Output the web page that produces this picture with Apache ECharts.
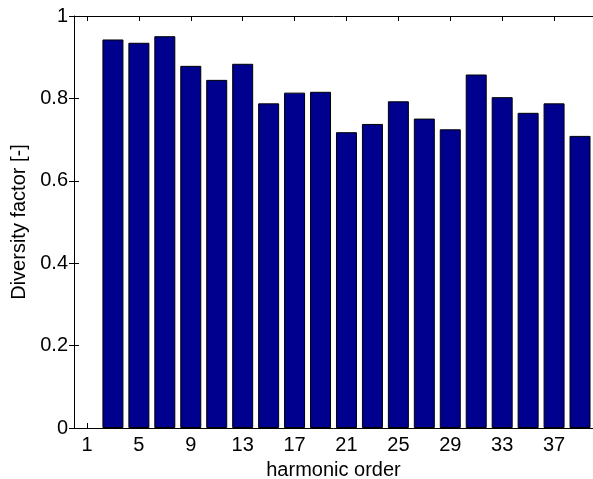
<!DOCTYPE html>
<html>
<head>
<meta charset="utf-8">
<script src="https://cdn.jsdelivr.net/npm/echarts@6/dist/echarts.min.js"></script>
<style>
html,body{margin:0;padding:0;background:#fff;}
#main{width:593px;height:479px;}
</style>
</head>
<body>
<div id="main"></div>
<script>
// harmonic orders and diversity factor
var harmonics = [3,5,7,9,11,13,15,17,19,21,23,25,27,29,31,33,35,37,39];
var diversity = [0.943,0.935,0.951,0.879,0.845,0.884,0.788,0.814,0.816,0.718,0.738,0.793,0.751,0.725,0.858,0.803,0.765,0.788,0.709];
var xTicks = [1,5,9,13,17,21,25,29,33,37];

var font = 'Liberation Sans, Arial, Helvetica, sans-serif';
var data = [];
for (var i in harmonics) {
	data.push([harmonics[i], diversity[i]]);
}

var myChart = echarts.init(document.getElementById('main'));
var axisLine = {show: true, onZero: false, lineStyle: {color: '#000', width: 1}};
var tick = {show: true, inside: true, length: 5, lineStyle: {color: '#000'}};
var option = {
	animation: false,
	backgroundColor: '#fff',
	grid: {left: 74, right: 0, top: 16, bottom: 51, outerBoundsMode: 'none', containLabel: false},
	xAxis: [
		{
			type: 'value', min: 0, max: 40,
			name: 'harmonic order', nameLocation: 'middle', nameGap: 32,
			nameTextStyle: {color: '#000', fontSize: 20, fontFamily: font},
			axisLine: axisLine,
			axisTick: Object.assign({customValues: xTicks}, tick),
			axisLabel: {customValues: xTicks, color: '#000', fontSize: 20, fontFamily: font, margin: 7},
			splitLine: {show: false}
		},
		{
			type: 'value', min: 0, max: 40, position: 'top',
			axisLine: axisLine,
			axisTick: Object.assign({customValues: xTicks}, tick),
			axisLabel: {show: false},
			splitLine: {show: false}
		}
	],
	yAxis: [
		{
			type: 'value', min: 0, max: 1, interval: 0.2,
			name: 'Diversity factor [-]', nameLocation: 'middle', nameGap: 37,
			nameTextStyle: {color: '#000', fontSize: 20, fontFamily: font},
			axisLine: axisLine,
			axisTick: tick,
			axisLabel: {color: '#000', fontSize: 20, fontFamily: font, margin: 6},
			splitLine: {show: false}
		},
		{
			type: 'value', min: 0, max: 1, interval: 0.2, position: 'right',
			axisLine: {show: false},
			axisTick: tick,
			axisLabel: {show: false},
			splitLine: {show: false}
		}
	],
	series: [
		{
			type: 'bar',
			data: data,
			barWidth: 21,
			itemStyle: {color: '#00008F', borderColor: '#000', borderWidth: 1}
		}
	]
};
myChart.setOption(option);
</script>
</body>
</html>
